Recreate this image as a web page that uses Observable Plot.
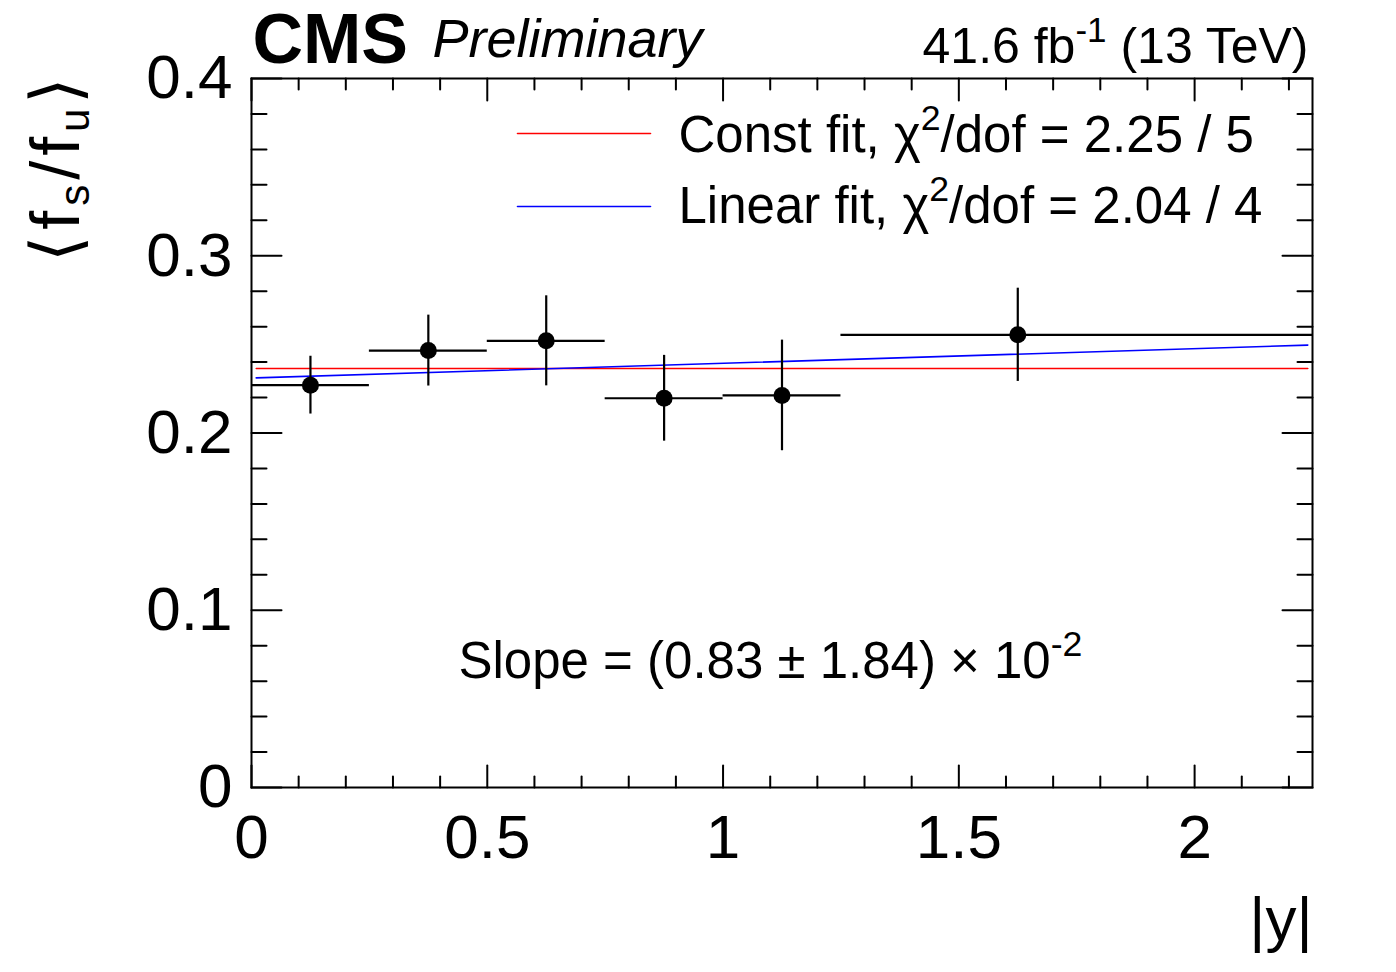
<!DOCTYPE html>
<html><head><meta charset="utf-8">
<script src="https://cdn.jsdelivr.net/npm/d3@7"></script>
<script src="https://cdn.jsdelivr.net/npm/@observablehq/plot@0.6"></script>
<style>html,body{margin:0;padding:0;background:#fff;overflow:hidden}</style>
</head><body><div id="chart"></div>
<script>
// ---- data ----
const binLow   = [0, 0.25, 0.5, 0.75, 1.0, 1.25];
const binHigh  = [0.25, 0.5, 0.75, 1.0, 1.25, 2.25];
const pointX   = [0.125, 0.375, 0.625, 0.875, 1.125, 1.625];
const ratio    = [0.227, 0.2465, 0.252, 0.2196, 0.2212, 0.2554];
const ratioErr = [0.0163, 0.0200, 0.0254, 0.0242, 0.0312, 0.0263];
const fitX       = [0.01, 2.24];
const constFitY  = [0.2364, 0.2364];
const linearFitY = [0.2311, 0.2496];
const xMajor = [0, 0.5, 1, 1.5, 2];
const xTickLabels = ["0", "0.5", "1", "1.5", "2"];
const xMinor = d3.range(1, 23).map(i => i / 10).filter(v => !xMajor.includes(v));
const yMajor = [0, 0.1, 0.2, 0.3, 0.4];
const yTickLabels = ["0", "0.1", "0.2", "0.3", "0.4"];
const yMinor = d3.range(1, 20).filter(i => i % 5 !== 0).map(i => i / 50);
const legendLabels = ["Const fit, χ^{2}/dof = 2.25 / 5", "Linear fit, χ^{2}/dof = 2.04 / 4"];
const legendColors = ["#ff0000", "#0000ff"];
const slopeText = "Slope = (0.83 ± 1.84) × 10^{-2}";
const lumiText = "41.6 fb^{-1} (13 TeV)";
const xTitle = "|y|";
const yTitle = "⟨f_{s}/f_{u}⟩";

// ---- tables built from the arrays ----
const points = pointX.map((x, i) => ({x, v: ratio[i], e: ratioErr[i], lo: binLow[i], hi: binHigh[i]}));
const constFit = fitX.map((x, i) => ({x, y: constFitY[i]}));
const linearFit = fitX.map((x, i) => ({x, y: linearFitY[i]}));

const tickShape = {draw(ctx, l) { ctx.moveTo(0, 0); ctx.lineTo(0, -l); }};
const tickOpts = {shape: tickShape, anchor: "start", strokeWidth: 2, stroke: "black"};

const FONT = "'Liberation Sans', Arial, Helvetica, sans-serif";

const svg = Plot.plot({
  width: 1396, height: 972,
  marginLeft: 251, marginRight: 84, marginTop: 78, marginBottom: 185,
  style: {fontFamily: FONT, background: "white", color: "black", overflow: "visible"},
  x: {domain: [0, 2.25]},
  y: {domain: [0, 0.4]},
  marks: [
    // fits
    Plot.line(constFit, {x: "x", y: "y", stroke: legendColors[0], strokeWidth: 1.6}),
    Plot.line(linearFit, {x: "x", y: "y", stroke: legendColors[1], strokeWidth: 1.6}),
    // data with errors
    Plot.ruleY(points, {y: "v", x1: "lo", x2: "hi", stroke: "black", strokeWidth: 2.2}),
    Plot.ruleX(points, {x: "x", y1: d => d.v - d.e, y2: d => d.v + d.e, stroke: "black", strokeWidth: 2.2}),
    Plot.dot(points, {x: "x", y: "v", r: 8.5, fill: "black", stroke: null}),
    // frame + inward ticks on all four sides
    Plot.frame({stroke: "black", strokeWidth: 2}),
    Plot.vector(xMajor, {...tickOpts, x: d => d, y: 0, length: 22, rotate: 0}),
    Plot.vector(xMinor, {...tickOpts, x: d => d, y: 0, length: 11, rotate: 0}),
    Plot.vector(xMajor, {...tickOpts, x: d => d, y: 0.4, length: 22, rotate: 180}),
    Plot.vector(xMinor, {...tickOpts, x: d => d, y: 0.4, length: 11, rotate: 180}),
    Plot.vector(yMajor, {...tickOpts, y: d => d, x: 0, length: 30, rotate: 90}),
    Plot.vector(yMinor, {...tickOpts, y: d => d, x: 0, length: 15, rotate: 90}),
    Plot.vector(yMajor, {...tickOpts, y: d => d, x: 2.25, length: 30, rotate: -90}),
    Plot.vector(yMinor, {...tickOpts, y: d => d, x: 2.25, length: 15, rotate: -90}),
    // tick labels
    Plot.axisX({ticks: xMajor, tickSize: 0, tickPadding: 26, fontSize: 62, label: null,
      tickFormat: d => xTickLabels[xMajor.indexOf(d)]}),
    Plot.axisY({ticks: yMajor, tickSize: 0, tickPadding: 19, fontSize: 62, label: null,
      tickFormat: d => yTickLabels[yMajor.indexOf(d)]}),
    // axis titles
    Plot.text([xTitle], {text: d => d, frameAnchor: "bottom-right", textAnchor: "end", lineAnchor: "bottom",
      dx: 0, dy: 152, fontSize: 62}),
    Plot.text([yTitle], {text: d => d, frameAnchor: "top-left", textAnchor: "end", lineAnchor: "bottom",
      rotate: -90, dx: -173, dy: -7, fontSize: 68}),
    // header
    Plot.text(["CMS"], {text: d => d, frameAnchor: "top-left", textAnchor: "start", lineAnchor: "bottom",
      dx: 1, dy: -16, fontSize: 70, fontWeight: "bold"}),
    Plot.text(["Preliminary"], {text: d => d, frameAnchor: "top-left", textAnchor: "start", lineAnchor: "bottom",
      dx: 181, dy: -22, fontSize: 54, fontStyle: "italic"}),
    Plot.text([lumiText], {text: d => d, frameAnchor: "top-right", textAnchor: "end", lineAnchor: "bottom",
      dx: -4, dy: -16, fontSize: 50}),
    // legend
    ...legendLabels.flatMap((lab, i) => [
      Plot.vector([lab], {frameAnchor: "top-left", dx: 266, dy: 55 + 73 * i, length: 133, rotate: 90,
        anchor: "start", shape: tickShape, stroke: legendColors[i], strokeWidth: 1.6}),
      Plot.text([lab], {text: d => d, frameAnchor: "top-left", textAnchor: "start", lineAnchor: "bottom",
        dx: 427, dy: 73 + 71 * i, fontSize: 51})
    ]),
    // slope annotation
    Plot.text([slopeText], {text: d => d, frameAnchor: "bottom-left", textAnchor: "start", lineAnchor: "bottom",
      dx: 207, dy: -110, fontSize: 51})
  ]
});

document.getElementById("chart").appendChild(svg);

// turn ^{..} / _{..} markup into real superscript / subscript tspans
d3.select(svg).selectAll("text").each(function() {
  const s = this.textContent;
  if (!/[\^_]\{/.test(s)) return;
  const fs = parseFloat(getComputedStyle(this).fontSize) || 50;
  if (s === yTitle) this.style.letterSpacing = "5px";
  this.textContent = "";
  const re = /([\^_])\{([^}]*)\}/g;
  let last = 0, m, cur = 0;
  const add = (txt, kind) => {
    if (!txt) return;
    const target = kind === "^" ? -0.42 * fs : kind === "_" ? 0.16 * fs : 0;
    const t = document.createElementNS("http://www.w3.org/2000/svg", "tspan");
    t.setAttribute("dy", target - cur);
    if (kind) t.setAttribute("font-size", (kind === "_" ? 0.62 : 0.7) * fs);
    t.textContent = txt;
    this.appendChild(t);
    cur = target;
  };
  while ((m = re.exec(s))) {
    add(s.slice(last, m.index), null);
    add(m[2], m[1]);
    last = re.lastIndex;
  }
  add(s.slice(last), null);
});
</script>
</body></html>
